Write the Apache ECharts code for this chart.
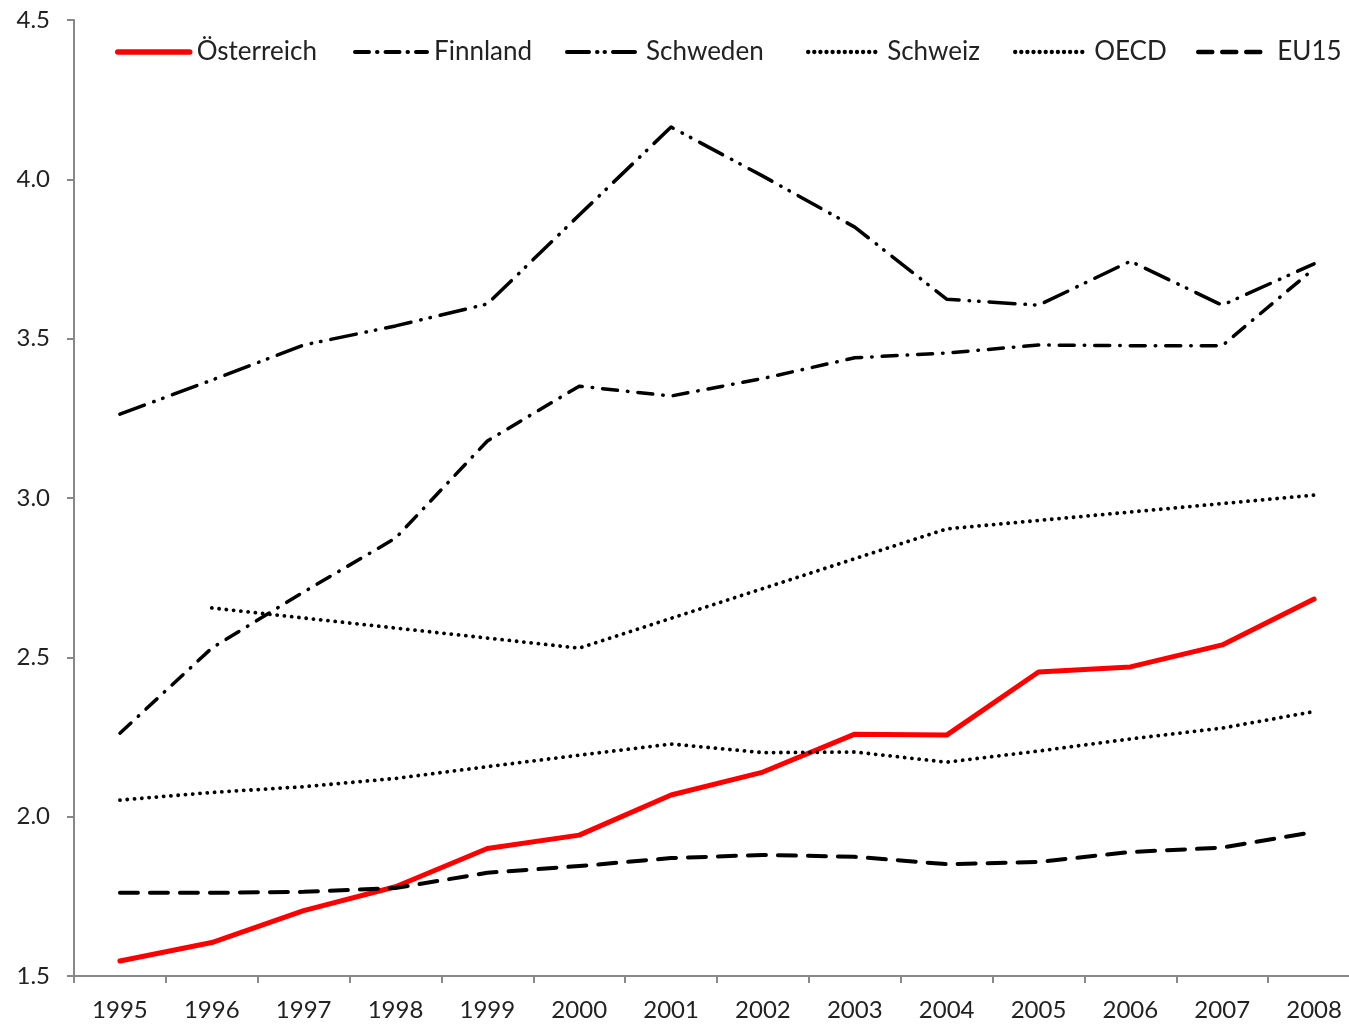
<!DOCTYPE html>
<html>
<head>
<meta charset="utf-8">
<script src="https://cdn.jsdelivr.net/npm/echarts@6/dist/echarts.min.js"></script>
<style>
html,body{margin:0;padding:0;background:#fff;}
#chart{width:1349px;height:1024px;}
</style>
</head>
<body>
<div id="chart"></div>
<script>
const years = ['1995','1996','1997','1998','1999','2000','2001','2002','2003','2004','2005','2006','2007','2008'];
const oesterreich = [1.547, 1.605, 1.705, 1.780, 1.900, 1.942, 2.068, 2.140, 2.259, 2.256, 2.454, 2.470, 2.539, 2.683];
const finnland    = [2.262, 2.529, 2.705, 2.874, 3.179, 3.351, 3.320, 3.375, 3.440, 3.455, 3.480, 3.478, 3.478, 3.720];
const schweden    = [3.263, 3.370, 3.480, 3.540, 3.609, 3.888, 4.164, 4.010, 3.850, 3.624, 3.605, 3.743, 3.605, 3.735];
const schweiz     = [null, 2.655, null, null, null, 2.529, null, null, null, 2.903, null, null, null, 3.009];
const oecd        = [2.052, 2.076, 2.094, 2.120, 2.157, 2.193, 2.228, 2.201, 2.203, 2.171, 2.206, 2.244, 2.278, 2.330];
const eu15        = [1.761, 1.761, 1.764, 1.776, 1.824, 1.845, 1.870, 1.880, 1.874, 1.851, 1.858, 1.889, 1.903, 1.952];
const seriesNames = ['Österreich','Finnland','Schweden','Schweiz','OECD','EU15'];
const yTicks = { min: 1.5, max: 4.5, interval: 0.5 };

const FONT = 'Lato, "DejaVu Sans", sans-serif';
const widths = [5, 3.5, 3.5, 3.8, 3.8, 4];
const colors = ['#ff0000', '#000', '#000', '#000', '#000', '#000'];
const dashes = ['solid', [15, 10, 0.5, 10], [26, 10, 0.5, 9, 0.5, 10], [0.1, 7.2], [0.1, 7.2], [18, 12]];
const legendDashes = ['solid', [14, 8, 0.5, 8], [22, 8, 0.5, 7, 0.5, 8], [0.1, 6], [0.1, 6], [14, 10]];

function line(i, data, extra) {
  return Object.assign({
    name: seriesNames[i], type: 'line', data, symbol: 'none', showSymbol: false, smooth: false,
    lineStyle: { color: colors[i], width: widths[i], type: dashes[i], cap: 'round', join: 'round' },
    itemStyle: { color: colors[i] }
  }, extra || {});
}

const legendLefts = [110, 348, 560, 801, 1008, 1191];
const legends = seriesNames.map((n, i) => ({
  top: 34, left: legendLefts[i],
  itemWidth: 72, itemHeight: 14, itemGap: 0,
  itemStyle: { opacity: 0 },
  lineStyle: { width: widths[i] + 0.5, type: legendDashes[i], cap: 'round', color: colors[i] },
  textStyle: { fontFamily: FONT, fontSize: 26, color: '#222', padding: [0, 0, 0, 2] },
  data: [n]
}));

const chart = echarts.init(document.getElementById('chart'));
chart.setOption({
  animation: false,
  backgroundColor: '#fff',
  grid: { left: 74, width: 1286, top: 20, bottom: 48, containLabel: false, outerBoundsMode: 'none' },
  legend: legends,
  xAxis: {
    type: 'category', data: years, boundaryGap: true,
    axisLine: { lineStyle: { color: '#888', width: 2 } },
    axisTick: { show: true, length: 7, lineStyle: { color: '#888', width: 2 } },
    axisLabel: { fontFamily: FONT, fontSize: 24, color: '#222', margin: 22 },
    splitLine: { show: false }
  },
  yAxis: {
    type: 'value', min: yTicks.min, max: yTicks.max, interval: yTicks.interval,
    axisLine: { show: true, lineStyle: { color: '#888', width: 2 } },
    axisTick: { show: true, length: 7, lineStyle: { color: '#888', width: 2 } },
    axisLabel: { fontFamily: FONT, fontSize: 24, color: '#222', margin: 24,
      formatter: v => v.toFixed(1) },
    splitLine: { show: false }
  },
  series: [
    line(0, oesterreich),
    line(1, finnland),
    line(2, schweden),
    line(3, schweiz, { connectNulls: true }),
    line(4, oecd),
    line(5, eu15)
  ]
});
</script>
</body>
</html>
